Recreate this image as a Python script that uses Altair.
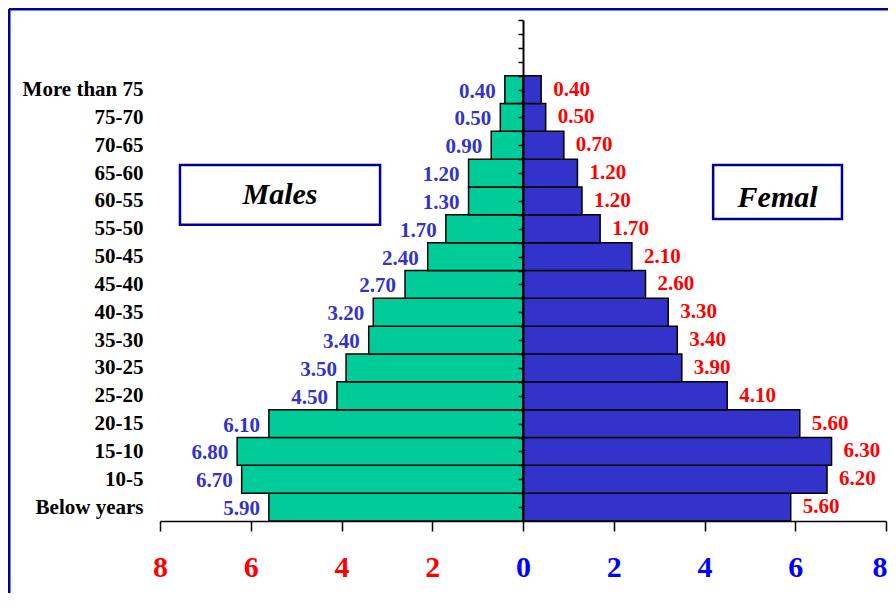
import json
import altair as alt
import pandas as pd

# ---- data (bottom to top) ----
age_groups = ["Below years", "10-5", "15-10", "20-15", "25-20", "30-25", "35-30",
              "40-35", "45-40", "50-45", "55-50", "60-55", "65-60", "70-65",
              "75-70", "More than 75"]
male_pct = [5.60, 6.20, 6.30, 5.60, 4.10, 3.90, 3.40, 3.30, 2.60, 2.10,
            1.70, 1.20, 1.20, 0.70, 0.50, 0.40]
female_pct = [5.90, 6.70, 6.80, 6.10, 4.50, 3.50, 3.40, 3.20, 2.70, 2.40,
              1.70, 1.30, 1.20, 0.90, 0.50, 0.40]
x_ticks = [-8, -6, -4, -2, 0, 2, 4, 6, 8]

box_labels = ["Males", "Femal"]
box_x0 = [-7.56, 4.19]
box_x1 = [-3.15, 7.03]
box_y0 = [10.64, 10.85]
box_y1 = [12.79, 12.79]
box_text_y = [11.71, 11.62]

FONT = "Liberation Serif"
GREEN = "#00CC99"
BLUE = "#3333CC"
FRAME = "#000099"

n = len(age_groups)
df = pd.DataFrame({
    "age": age_groups,
    "y0": list(range(n)),
    "y1": [i + 1 for i in range(n)],
    "ymid": [i + 0.5 for i in range(n)],
    "male": male_pct,
    "female": female_pct,
    "mneg": [-v for v in male_pct],
    "zero": [0] * n,
})

boxes = pd.DataFrame({
    "label": box_labels,
    "x0": box_x0, "x1": box_x1, "y0": box_y0, "y1": box_y1,
    "xc": [(a + b) / 2 for a, b in zip(box_x0, box_x1)],
    "yc": box_text_y,
})

xscale = alt.Scale(domain=[-8, 8], range=[149, 875])
yscale = alt.Scale(domain=[0, 18], range=[510, 9])

x_axis = alt.Axis(
    values=x_ticks, labelExpr="abs(datum.value)", title=None, grid=False,
    labelColor={"condition": {"test": "datum.value < 0", "value": "#FF0000"}, "value": "#0000FF"},
    labelAlign={"condition": {"test": "datum.value >= 8", "value": "right"}, "value": "center"},
    labelOffset={"condition": {"test": "datum.value >= 8", "value": 1}, "value": 0},
    labelFont=FONT, labelFontSize=30, labelFontWeight="bold", labelPadding=21,
    labelFlush=False, labelOverlap=False,
    tickSize=10, tickColor="black", tickWidth=1.5,
    domainColor="black", domainWidth=1.5,
)

cat_axis = alt.Axis(
    orient="left", offset=-136, values=[i + 0.5 for i in range(n)],
    labelExpr=json.dumps(age_groups) + "[floor(datum.value)]",
    title=None, grid=False, domain=False, ticks=False,
    labelFont=FONT, labelFontSize=21, labelFontWeight="bold", labelColor="black",
    labelPadding=4, labelFlush=False, labelOverlap=False,
)

center_axis = alt.Axis(
    orient="left", offset=-512, values=[k * 0.5 for k in range(1, 37)],
    title=None, grid=False, labels=False,
    tickSize=5, tickColor="black", tickWidth=1.5,
    domainColor="black", domainWidth=2, zindex=1,
)

base = alt.Chart(df)

male_bars = base.mark_bar(color=GREEN, stroke="black", strokeWidth=1.5).encode(
    x=alt.X("mneg:Q", scale=xscale, axis=x_axis),
    x2="zero:Q",
    y=alt.Y("y0:Q", scale=yscale, axis=cat_axis),
    y2="y1:Q",
)
female_bars = base.mark_bar(color=BLUE, stroke="black", strokeWidth=1.5).encode(
    x=alt.X("zero:Q", scale=xscale, axis=x_axis),
    x2="female:Q",
    y=alt.Y("y0:Q", scale=yscale, axis=None),
    y2="y1:Q",
)

left_labels = base.mark_text(
    align="right", baseline="middle", dx=-9, dy=2,
    font=FONT, fontSize=21, fontWeight="bold", color=BLUE,
).encode(
    x=alt.X("mneg:Q", scale=xscale, axis=x_axis),
    y=alt.Y("ymid:Q", scale=yscale, axis=None),
    text=alt.Text("female:Q", format=".2f"),
)
right_labels = base.mark_text(
    align="left", baseline="middle", dx=12, dy=0,
    font=FONT, fontSize=21, fontWeight="bold", color="#FF0000",
).encode(
    x=alt.X("female:Q", scale=xscale, axis=x_axis),
    y=alt.Y("ymid:Q", scale=yscale, axis=None),
    text=alt.Text("male:Q", format=".2f"),
)

center = alt.Chart(pd.DataFrame({"v": [0, 18]})).mark_rule(opacity=0).encode(
    y=alt.Y("v:Q", scale=yscale, axis=center_axis),
)

box_rects = alt.Chart(boxes).mark_rect(fill="white", stroke=FRAME, strokeWidth=2.5).encode(
    x=alt.X("x0:Q", scale=xscale, axis=x_axis), x2="x1:Q",
    y=alt.Y("y0:Q", scale=yscale, axis=None), y2="y1:Q",
)
box_text = alt.Chart(boxes).mark_text(
    font=FONT, fontSize=30, fontWeight="bold", fontStyle="italic", color="black",
    baseline="middle", align="center",
).encode(
    x=alt.X("xc:Q", scale=xscale, axis=x_axis),
    y=alt.Y("yc:Q", scale=yscale, axis=None),
    text="label:N",
)

one = alt.Data(values=[{"a": 1}])
frame_left = alt.Chart(one).mark_rule(color=FRAME, strokeWidth=3).encode(
    x=alt.value(-2), y=alt.value(-2), y2=alt.value(700)
)
frame_top = alt.Chart(one).mark_rule(color=FRAME, strokeWidth=3).encode(
    x=alt.value(-2), x2=alt.value(1000), y=alt.value(-2)
)

chart = alt.layer(
    frame_left, frame_top, male_bars, female_bars, center,
    left_labels, right_labels, box_rects, box_text,
).resolve_axis(y="independent").properties(
    width=877, height=510,
    autosize="none",
    padding={"left": 3, "top": 3, "right": 0, "bottom": 72},
    background="white",
).configure_view(strokeWidth=0)

chart.save("out.html", embed_options={"renderer": "svg", "actions": False})
